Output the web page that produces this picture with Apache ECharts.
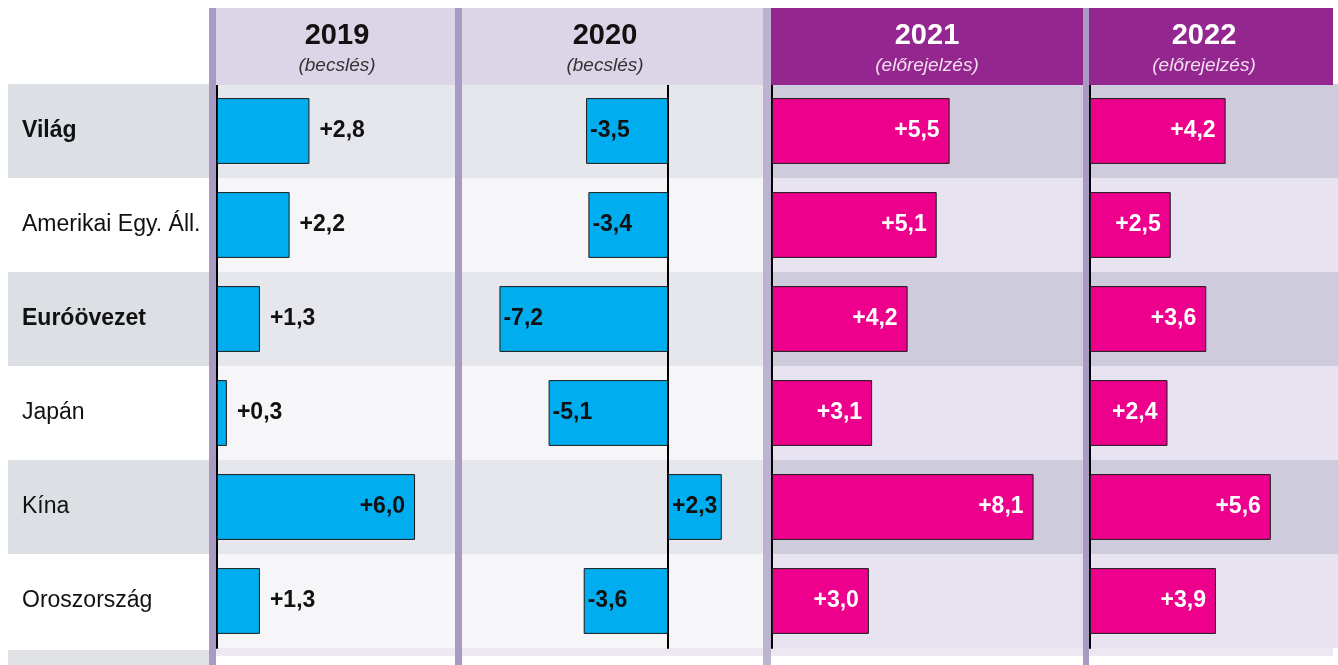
<!DOCTYPE html>
<html>
<head>
<meta charset="utf-8">
<script src="https://cdn.jsdelivr.net/npm/echarts@6/dist/echarts.min.js"></script>
<style>
html, body { margin: 0; padding: 0; background: #fff; }
#chart { width: 1338px; height: 665px; }
</style>
</head>
<body>
<div id="chart"></div>
<script>
// országok és GDP növekedés (%)
const countries = ['Világ', 'Amerikai Egy. Áll.', 'Euróövezet', 'Japán', 'Kína', 'Oroszország']
const boldRows = ['Világ', 'Euróövezet']
const years = ['2019', '2020', '2021', '2022']
const yearNotes = ['(becslés)', '(becslés)', '(előrejelzés)', '(előrejelzés)']
const g2019 = [2.8, 2.2, 1.3, 0.3, 6.0, 1.3]
const g2020 = [-3.5, -3.4, -7.2, -5.1, 2.3, -3.6]
const g2021 = [5.5, 5.1, 4.2, 3.1, 8.1, 3.0]
const g2022 = [4.2, 2.5, 3.6, 2.4, 5.6, 3.9]

const FONT = '"Liberation Sans", Arial, sans-serif'
const TOP = 84
const H = 564

// panelek: bal szél, szélesség, skála
const panels = [
  { left: 217, width: 238, min: 0, max: 7.21, data: g2019, light: true },
  { left: 462, width: 301, min: -8.8, max: 4.06, data: g2020, light: true },
  { left: 772, width: 311, min: 0, max: 9.63, data: g2021, light: false },
  { left: 1090, width: 248, min: 0, max: 7.68, data: g2022, light: false },
]
const headers = [
  { x: 216, w: 239, cx: 337 },
  { x: 462, w: 301, cx: 605 },
  { x: 771, w: 312, cx: 927 },
  { x: 1089, w: 244, cx: 1204 },
]

function fmt (v) {
  return (v > 0 ? '+' : '') + v.toFixed(1).replace('.', ',')
}

let grids = [{ left: 8, width: 201, top: TOP, height: H }]
let xAxes = [{ gridIndex: 0, type: 'value', show: false, min: 0, max: 1 }]
let yAxes = [{
  gridIndex: 0,
  type: 'category',
  data: countries,
  inverse: true,
  axisLine: { show: false },
  axisTick: { show: false },
  axisLabel: {
    inside: true,
    margin: 14,
    formatter: (v) => boldRows.indexOf(v) >= 0 ? '{b|' + v + '}' : '{n|' + v + '}',
    rich: {
      b: { fontFamily: FONT, fontSize: 23, fontWeight: 'bold', color: '#111' },
      n: { fontFamily: FONT, fontSize: 23, color: '#111' },
    },
  },
  splitArea: { show: true, areaStyle: { color: ['#dcdfe3', '#ffffff'] } },
}]
let series = []

panels.forEach((p, i) => {
  let gi = i + 1
  grids.push({ left: p.left, width: p.width, top: TOP, height: H })
  xAxes.push({ gridIndex: gi, type: 'value', show: false, min: p.min, max: p.max })
  yAxes.push({
    gridIndex: gi,
    type: 'category',
    data: countries,
    inverse: true,
    axisLine: { show: true, onZero: true, lineStyle: { color: '#000', width: 2 } },
    axisTick: { show: false },
    axisLabel: { show: false },
    splitArea: {
      show: true,
      areaStyle: { color: p.light ? ['#e6e7ec', '#f6f6f8'] : ['#cecbdc', '#e7e3f0'] },
    },
  })
  series.push({
    type: 'bar',
    xAxisIndex: gi,
    yAxisIndex: gi,
    barWidth: '70%',
    z: 3,
    itemStyle: {
      color: p.light ? '#00aeef' : '#ec008c',
      borderColor: '#1a1a1a',
      borderWidth: 1,
    },
    data: p.data.map((v) => {
      let pos
      if (i === 0) pos = v > 5 ? 'insideRight' : 'right'
      else if (i === 1) pos = 'insideLeft'
      else pos = 'insideRight'
      return {
        value: v,
        label: {
          show: true,
          position: pos,
          distance: pos === 'right' ? 10 : (pos === 'insideLeft' ? 4 : 10),
          formatter: fmt(v),
          fontFamily: FONT,
          fontSize: 23,
          fontWeight: 'bold',
          color: i >= 2 ? '#ffffff' : '#111',
        },
      }
    }),
  })
})

let graphic = []
// elválasztó csíkok
;[[209, 7, '#a99ac3'], [455, 7, '#a99ac3'], [763, 8, '#bdb3d0'], [1083, 6, '#a99ac3']].forEach((s) => {
  graphic.push({ type: 'rect', shape: { x: s[0], y: 8, width: s[1], height: 657 }, style: { fill: s[2] }, z: 1 })
})
// alsó sáv
graphic.push({ type: 'rect', shape: { x: 8, y: 650, width: 201, height: 15 }, style: { fill: '#e0e2e6' }, z: 0 })
graphic.push({ type: 'rect', shape: { x: 216, y: 648, width: 1117, height: 8 }, style: { fill: '#ebe8f1' }, z: 0 })
// fejlécek
headers.forEach((h, i) => {
  let dark = i >= 2
  graphic.push({ type: 'rect', shape: { x: h.x, y: 8, width: h.w, height: 77 }, style: { fill: dark ? '#93278f' : '#dcd4e7' }, z: 1 })
  graphic.push({
    type: 'text', x: h.cx, y: 36, z: 2,
    style: { text: years[i], fontFamily: FONT, fontSize: 29, fontWeight: 'bold', fill: dark ? '#fff' : '#111', align: 'center', verticalAlign: 'middle' },
  })
  graphic.push({
    type: 'text', x: h.cx, y: 66, z: 2,
    style: { text: yearNotes[i], fontFamily: FONT, fontSize: 19, fontStyle: 'italic', fill: dark ? '#f3dcf0' : '#333', align: 'center', verticalAlign: 'middle' },
  })
})

let myChart = echarts.init(document.getElementById('chart'))
myChart.setOption({
  animation: false,
  grid: grids,
  xAxis: xAxes,
  yAxis: yAxes,
  series: series,
  graphic: graphic,
})
</script>
</body>
</html>
